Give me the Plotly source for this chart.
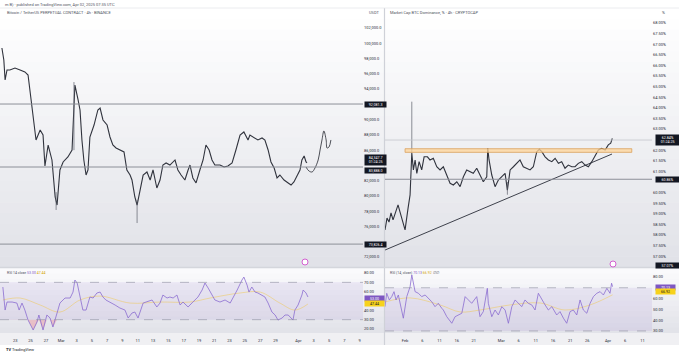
import plotly.graph_objects as go
import numpy as np

W, H = 679, 354

# ---------------- Left: Bitcoin / TetherUS perpetual, 4h ----------------
btc_dates = [
"2025-02-21 06:00","2025-02-21 12:00","2025-02-21 16:00","2025-02-21 22:00","2025-02-22 07:00","2025-02-22 23:00","2025-02-23 15:00","2025-02-24 06:00","2025-02-24 16:00","2025-02-24 22:00",
"2025-02-25 04:00","2025-02-25 11:00","2025-02-25 17:00","2025-02-26 06:00","2025-02-26 15:00","2025-02-26 21:00","2025-02-27 07:00","2025-02-27 19:00","2025-02-28 05:00","2025-02-28 11:00",
"2025-02-28 20:00","2025-03-01 06:00","2025-03-01 21:00","2025-03-02 10:00","2025-03-02 16:00","2025-03-02 19:00","2025-03-03 05:00","2025-03-03 11:00","2025-03-03 17:00","2025-03-03 23:00",
"2025-03-04 06:00","2025-03-04 12:00","2025-03-04 18:00","2025-03-05 07:00","2025-03-05 19:00","2025-03-06 02:00","2025-03-06 11:00","2025-03-07 00:00","2025-03-07 09:00","2025-03-07 18:00",
"2025-03-08 04:00","2025-03-08 16:00","2025-03-09 05:00","2025-03-09 14:00","2025-03-10 00:00","2025-03-10 06:00","2025-03-10 15:00","2025-03-10 22:00","2025-03-11 07:00","2025-03-11 17:00",
"2025-03-12 05:00","2025-03-12 15:00","2025-03-13 00:00","2025-03-13 12:00","2025-03-13 22:00","2025-03-14 07:00","2025-03-14 17:00","2025-03-15 05:00","2025-03-15 21:00","2025-03-16 06:00",
"2025-03-16 16:00","2025-03-17 04:00","2025-03-17 14:00","2025-03-17 20:00","2025-03-18 05:00","2025-03-18 15:00","2025-03-19 03:00","2025-03-19 13:00","2025-03-19 22:00","2025-03-20 08:00",
"2025-03-20 17:00","2025-03-21 02:00","2025-03-21 18:00","2025-03-22 07:00","2025-03-22 19:00","2025-03-23 08:00","2025-03-23 20:00","2025-03-24 09:00","2025-03-24 21:00","2025-03-25 10:00",
"2025-03-25 16:00","2025-03-26 05:00","2025-03-26 17:00","2025-03-27 06:00","2025-03-27 15:00","2025-03-28 01:00","2025-03-28 10:00","2025-03-28 20:00","2025-03-29 05:00","2025-03-29 14:00",
"2025-03-30 03:00","2025-03-30 16:00","2025-03-31 01:00","2025-03-31 10:00","2025-03-31 20:00","2025-04-01 05:00","2025-04-01 11:00","2025-04-01 18:00","2025-04-02 00:00","2025-04-02 03:00"]
btc_close = [99380,97810,95190,96500,96500,96760,96500,96240,95840,93880,
91650,89290,87330,88640,87980,83920,86670,84710,79860,78810,
83400,84450,85100,86020,93220,94530,92570,91260,87330,84710,
82740,83400,87720,89290,91260,91520,89950,89290,87720,86670,
86280,86020,85760,83400,82740,82090,79860,78810,80780,82740,
83140,82090,83400,81040,82090,84050,84320,84050,84710,83400,
82740,82090,83400,84050,82350,81700,83400,84710,86670,86020,
84710,84050,84050,83790,83920,84320,86020,87980,88380,87330,
87980,87590,87330,87590,87330,86020,84450,83660,82350,82740,
82090,81700,81430,81830,82740,83400,84710,85230,84450,84350]
btc_wick_dates = ["2025-02-28 08:00", "2025-03-02 16:00", "2025-03-10 22:00"]
btc_wick_low = [78160, 86000, 76450]
btc_wick_high = [80500, 94920, 79500]
proj_dates = ["2025-04-02 00:00","2025-04-02 09:00","2025-04-02 19:00","2025-04-03 04:00","2025-04-03 14:00","2025-04-03 20:00",
              "2025-04-04 02:00","2025-04-04 08:00","2025-04-04 15:00","2025-04-04 18:00","2025-04-05 00:00","2025-04-05 06:00"]
proj_price = [83790,83270,83140,83660,84710,86020,87330,88510,87330,86280,86410,87330]
btc_levels = [92040, 83790, 73690]
btc_ticks = [72000,76000,78000,80000,82000,86000,88000,90000,94000,96000,98000,100000,102000]
btc_xtick_vals = ["2025-02-23","2025-02-25","2025-02-27","2025-03-01","2025-03-03","2025-03-05","2025-03-07","2025-03-09",
                  "2025-03-11","2025-03-13","2025-03-15","2025-03-17","2025-03-19","2025-03-21","2025-03-23","2025-03-25",
                  "2025-03-27","2025-03-29","2025-04-01","2025-04-03","2025-04-05","2025-04-07","2025-04-09"]
btc_xtick_text = ["23","25","27","Mar","3","5","7","9","11","13","15","17","19","21","23","25","27","29","Apr","3","5","7","9"]

rsiL_dates = ["2025-02-21 09:00","2025-02-21 16:00","2025-02-21 22:00","2025-02-22 14:00","2025-02-23 05:00","2025-02-23 12:00","2025-02-23 21:00","2025-02-24 06:00","2025-02-24 16:00","2025-02-25 08:00",
"2025-02-25 20:00","2025-02-26 02:00","2025-02-26 15:00","2025-02-27 03:00","2025-02-27 13:00","2025-02-27 22:00","2025-02-28 11:00","2025-02-28 20:00","2025-03-01 12:00","2025-03-02 04:00",
"2025-03-02 13:00","2025-03-02 19:00","2025-03-03 02:00","2025-03-03 11:00","2025-03-03 20:00","2025-03-04 06:00","2025-03-04 12:00","2025-03-04 18:00","2025-03-05 04:00","2025-03-05 16:00",
"2025-03-06 02:00","2025-03-06 11:00","2025-03-06 20:00","2025-03-07 09:00","2025-03-08 01:00","2025-03-08 16:00","2025-03-09 08:00","2025-03-09 18:00","2025-03-10 06:00","2025-03-10 15:00",
"2025-03-11 01:00","2025-03-11 17:00","2025-03-12 05:00","2025-03-12 21:00","2025-03-13 12:00","2025-03-13 22:00","2025-03-14 07:00","2025-03-14 20:00","2025-03-15 05:00","2025-03-15 15:00",
"2025-03-16 03:00","2025-03-16 13:00","2025-03-16 22:00","2025-03-17 14:00","2025-03-18 05:00","2025-03-18 21:00","2025-03-19 10:00","2025-03-19 19:00","2025-03-20 05:00","2025-03-20 17:00",
"2025-03-21 02:00","2025-03-21 18:00","2025-03-22 10:00","2025-03-23 02:00","2025-03-23 11:00","2025-03-24 00:00","2025-03-24 15:00","2025-03-24 21:00","2025-03-25 07:00","2025-03-25 13:00",
"2025-03-25 22:00","2025-03-26 08:00","2025-03-26 17:00","2025-03-27 06:00","2025-03-27 15:00","2025-03-28 01:00","2025-03-28 13:00","2025-03-28 23:00","2025-03-29 08:00","2025-03-29 21:00",
"2025-03-30 06:00","2025-03-30 16:00","2025-03-31 07:00","2025-03-31 13:00","2025-03-31 23:00","2025-04-01 11:00","2025-04-01 15:00","2025-04-02 00:00","2025-04-02 06:00"]
rsiL_vals = [65.0,40.3,48.9,48.9,47.8,40.3,47.8,40.3,29.6,18.9,
27.5,35.0,18.9,35.0,31.8,22.1,37.1,47.8,53.2,53.2,
59.6,72.5,69.3,56.4,40.3,40.3,48.9,54.3,53.2,58.6,
59.6,54.3,51.1,48.9,45.7,42.5,40.3,31.8,37.1,38.2,
31.8,47.8,48.9,51.1,43.6,47.8,56.4,53.2,54.3,53.2,
56.4,45.7,48.9,43.6,48.9,54.3,61.8,69.3,63.9,56.4,
51.1,48.9,51.1,47.8,53.2,61.8,72.5,75.7,67.1,59.6,
65.0,59.6,58.6,56.4,54.3,47.8,38.2,35.0,29.6,31.8,
35.0,35.0,29.6,40.3,45.7,56.4,61.8,58.6,54.3]
rsiL_ma_dates = ["2025-02-21 09:00","2025-02-23 15:00","2025-02-26 06:00","2025-02-28 20:00","2025-03-03 11:00","2025-03-06 02:00","2025-03-10 00:00",
                 "2025-03-13 22:00","2025-03-17 20:00","2025-03-20 11:00","2025-03-24 09:00","2025-03-27 00:00","2025-03-29 14:00","2025-03-31 13:00","2025-04-02 06:00"]
rsiL_ma = [51.1,53.2,45.7,38.2,51.1,55.3,47.8,48.9,48.9,53.2,58.6,59.6,47.8,40.3,46.8]

# ---------------- Right: BTC dominance ----------------
dom_dates = ["2025-01-26 04:00","2025-01-26 18:00","2025-01-27 08:00","2025-01-27 22:00","2025-01-28 12:00","2025-01-29 09:00","2025-01-29 23:00","2025-01-30 13:00","2025-01-31 03:00","2025-01-31 17:00",
"2025-02-01 00:00","2025-02-01 21:00","2025-02-02 11:00","2025-02-02 23:00","2025-02-03 10:00","2025-02-03 22:00","2025-02-04 10:00","2025-02-05 02:00","2025-02-05 20:00","2025-02-06 13:00",
"2025-02-07 12:00","2025-02-08 06:00","2025-02-09 05:00","2025-02-10 05:00","2025-02-11 04:00","2025-02-12 03:00","2025-02-13 03:00","2025-02-14 02:00","2025-02-15 01:00","2025-02-16 01:00",
"2025-02-17 00:00","2025-02-17 23:00","2025-02-18 22:00","2025-02-19 21:00","2025-02-20 20:00","2025-02-21 20:00","2025-02-22 19:00","2025-02-23 18:00","2025-02-24 18:00","2025-02-25 01:00",
"2025-02-25 10:00","2025-02-26 05:00","2025-02-27 04:00","2025-02-28 03:00","2025-03-01 03:00","2025-03-02 02:00","2025-03-02 18:00","2025-03-03 13:00","2025-03-04 12:00","2025-03-05 11:00",
"2025-03-06 10:00","2025-03-07 09:00","2025-03-08 09:00","2025-03-09 08:00","2025-03-10 07:00","2025-03-11 07:00","2025-03-12 01:00","2025-03-12 18:00","2025-03-13 17:00","2025-03-14 16:00",
"2025-03-15 16:00","2025-03-16 15:00","2025-03-17 14:00","2025-03-18 13:00","2025-03-19 12:00","2025-03-20 11:00","2025-03-21 11:00","2025-03-22 10:00","2025-03-23 09:00","2025-03-24 09:00",
"2025-03-25 08:00","2025-03-26 07:00","2025-03-27 07:00","2025-03-28 06:00","2025-03-29 05:00","2025-03-30 04:00","2025-03-31 04:00","2025-04-01 02:00","2025-04-01 19:00","2025-04-02 06:00"]
dom_vals = [58.24,58.80,58.61,59.04,58.71,59.08,59.42,59.08,58.71,58.33,
58.24,59.27,59.89,61.87,61.07,61.54,60.91,61.46,61.07,61.69,
61.69,61.54,61.62,61.22,61.07,61.22,60.83,60.44,60.36,60.51,
60.28,60.75,61.07,60.99,60.91,61.15,60.83,60.51,60.75,62.09,
61.54,60.83,60.28,60.59,60.75,60.91,60.12,61.07,61.22,61.38,
61.54,61.22,61.15,61.07,61.22,61.93,62.04,61.93,61.69,61.54,
61.46,61.62,61.38,61.46,61.15,61.30,61.22,61.22,61.38,61.46,
61.30,61.22,61.46,61.77,62.01,62.09,62.01,62.25,62.33,62.56]
dom_wick_dates = ["2025-02-02 23:00", "2025-03-02 18:00"]
dom_wick_low = [61.87, 59.90]
dom_wick_high = [64.29, 60.50]
zone_dates = ["2025-02-01 00:00", "2025-04-07 22:00"]
zone_range = [61.90, 62.07]
trend_dates = ["2025-01-26 04:00", "2025-04-02 04:00"]
trend_vals = [57.29, 61.82]
dom_levels_light = [62.48]
dom_levels_dark = [60.63]
dom_ticks = [57.0,57.5,58.0,58.5,59.0,59.5,60.0,61.0,61.5,62.0,63.0,63.5,64.0,64.5,65.0,65.5,66.0,66.5,67.0,67.5,68.0]
dom_xtick_vals = ["2025-02-01","2025-02-06","2025-02-11","2025-02-16","2025-02-21","2025-03-01","2025-03-06","2025-03-11",
                  "2025-03-16","2025-03-21","2025-03-26","2025-04-01","2025-04-06","2025-04-11"]
dom_xtick_text = ["Feb","6","11","16","21","Mar","6","11","16","21","26","Apr","6","11"]

rsiR_dates = ["2025-01-26 04:00","2025-01-26 16:00","2025-01-27 10:00","2025-01-28 03:00","2025-01-28 19:00","2025-01-29 09:00","2025-01-30 01:00","2025-01-30 18:00","2025-01-31 12:00","2025-02-01 12:00",
"2025-02-02 11:00","2025-02-02 23:00","2025-02-03 22:00","2025-02-04 21:00","2025-02-05 20:00","2025-02-06 20:00","2025-02-07 19:00","2025-02-08 18:00","2025-02-09 17:00","2025-02-10 16:00",
"2025-02-11 16:00","2025-02-12 03:00","2025-02-13 03:00","2025-02-14 14:00","2025-02-15 13:00","2025-02-16 12:00","2025-02-17 12:00","2025-02-18 11:00","2025-02-19 10:00","2025-02-20 09:00",
"2025-02-21 20:00","2025-02-22 19:00","2025-02-23 18:00","2025-02-24 22:00","2025-02-25 05:00","2025-02-26 05:00","2025-02-27 04:00","2025-02-28 03:00","2025-03-01 03:00","2025-03-02 02:00",
"2025-03-03 01:00","2025-03-04 01:00","2025-03-05 00:00","2025-03-05 23:00","2025-03-06 22:00","2025-03-07 21:00","2025-03-08 20:00","2025-03-09 20:00","2025-03-10 19:00","2025-03-11 18:00",
"2025-03-12 18:00","2025-03-13 17:00","2025-03-14 16:00","2025-03-15 16:00","2025-03-17 02:00","2025-03-18 01:00","2025-03-19 01:00","2025-03-20 00:00","2025-03-20 23:00","2025-03-21 22:00",
"2025-03-22 22:00","2025-03-23 21:00","2025-03-24 20:00","2025-03-25 20:00","2025-03-26 19:00","2025-03-27 18:00","2025-03-28 18:00","2025-03-29 17:00","2025-03-30 16:00","2025-03-31 16:00",
"2025-04-01 14:00","2025-04-02 01:00","2025-04-02 08:00"]
rsiR_vals = [52.5,64.9,58.7,61.8,66.4,58.7,63.3,52.5,41.8,61.8,
71.0,81.9,66.4,64.9,61.8,63.3,60.3,57.1,52.5,55.6,
51.0,49.4,43.2,37.1,43.2,44.8,46.4,61.8,58.7,55.6,
61.8,43.2,47.9,69.5,55.6,43.2,49.4,44.8,52.5,49.4,
37.1,52.5,58.7,55.6,52.5,58.7,55.6,54.1,49.4,64.9,
58.7,54.1,49.4,52.5,44.8,47.9,41.8,37.1,47.9,49.4,
44.8,58.7,49.4,46.4,55.6,61.8,64.9,66.4,63.3,69.5,
64.9,74.2,71.0]
rsiR_ma_dates = ["2025-01-26 04:00","2025-02-02 11:00","2025-02-11 04:00","2025-02-17 00:00","2025-02-22 19:00","2025-03-03 13:00",
                 "2025-03-12 06:00","2025-03-19 12:00","2025-03-26 19:00","2025-04-02 08:00"]
rsiR_ma = [56.9,60.6,54.1,47.6,49.4,54.1,55.9,49.4,54.1,63.5]

# ---------------- geometry helpers ----------------
def px(x): return x / W
def py(y): return 1 - y / H

LX = [0, px(363)]
RX = [px(385), px(652)]
MAIN_Y = [py(267), py(8)]
RSI_Y = [py(333), py(268)]

FONT = "Roboto"
TXT = "#2a2e39"
CANDLE = "#30333d"
PURPLE = "#8a6cd0"
YELLOW = "rgba(244,196,48,0.7)"

fig = go.Figure()

# ---- left main traces ----
fig.add_trace(go.Scatter(x=btc_dates, y=btc_close, mode="lines", line=dict(color=CANDLE, width=1.1), xaxis="x", yaxis="y"))
for d, lo, hi in zip(btc_wick_dates, btc_wick_low, btc_wick_high):
    fig.add_trace(go.Scatter(x=[d, d], y=[lo, hi], mode="lines", line=dict(color="#5d606b", width=0.7), xaxis="x", yaxis="y"))
fig.add_trace(go.Scatter(x=proj_dates, y=proj_price, mode="lines", line=dict(color="#23262f", width=0.8, shape="spline"), xaxis="x", yaxis="y"))

# ---- right main traces ----
fig.add_trace(go.Scatter(x=dom_dates, y=dom_vals, mode="lines", line=dict(color=CANDLE, width=1.1), xaxis="x2", yaxis="y2"))
for d, lo, hi in zip(dom_wick_dates, dom_wick_low, dom_wick_high):
    fig.add_trace(go.Scatter(x=[d, d], y=[lo, hi], mode="lines", line=dict(color="#5d606b", width=0.7), xaxis="x2", yaxis="y2"))
fig.add_trace(go.Scatter(x=trend_dates, y=trend_vals, mode="lines", line=dict(color="#2a2e39", width=0.9), xaxis="x2", yaxis="y2"))

# ---- RSI traces ----
rl = np.array(rsiL_vals)
fig.add_trace(go.Scatter(x=rsiL_dates, y=[30]*len(rl), mode="lines", line=dict(width=0, color="rgba(0,0,0,0)"), xaxis="x3", yaxis="y3"))
fig.add_trace(go.Scatter(x=rsiL_dates, y=np.minimum(rl, 30), mode="lines", line=dict(width=0, color="rgba(0,0,0,0)"),
                         fill="tonexty", fillcolor="rgba(242,54,69,0.22)", xaxis="x3", yaxis="y3"))
fig.add_trace(go.Scatter(x=rsiL_ma_dates, y=rsiL_ma, mode="lines", line=dict(color=YELLOW, width=0.6, shape="spline"), xaxis="x3", yaxis="y3"))
fig.add_trace(go.Scatter(x=rsiL_dates, y=rsiL_vals, mode="lines", line=dict(color=PURPLE, width=0.8), xaxis="x3", yaxis="y3"))

fig.add_trace(go.Scatter(x=rsiR_ma_dates, y=rsiR_ma, mode="lines", line=dict(color=YELLOW, width=0.6, shape="spline"), xaxis="x4", yaxis="y4"))
fig.add_trace(go.Scatter(x=rsiR_dates, y=rsiR_vals, mode="lines", line=dict(color=PURPLE, width=0.8), xaxis="x4", yaxis="y4"))

# ---- shapes ----
shapes = []
def grad(y0, y1, c0, c1, n=24):
    for i in range(n):
        a = y0 + (y1 - y0) * i / n
        b = y0 + (y1 - y0) * (i + 1) / n + 0.6
        t = i / (n - 1)
        c = tuple(int(round(c0[k] + (c1[k] - c0[k]) * t)) for k in range(3))
        shapes.append(dict(type="rect", xref="paper", yref="paper", x0=0, x1=1, y0=py(b), y1=py(a),
                           fillcolor="rgb(%d,%d,%d)" % c, line=dict(width=0), layer="below"))
grad(8, 267, (255, 255, 255), (225, 226, 232))
grad(268, 333, (250, 250, 252), (226, 227, 233), n=12)
shapes.append(dict(type="rect", xref="paper", yref="paper", x0=0, x1=1, y0=py(345), y1=py(333),
                   fillcolor="rgb(240,240,243)", line=dict(width=0), layer="below"))
# separators
shapes.append(dict(type="line", xref="paper", yref="paper", x0=px(384.5), x1=px(384.5), y0=py(345), y1=py(8),
                   line=dict(color="#cfd1d8", width=1.2)))
shapes.append(dict(type="line", xref="paper", yref="paper", x0=0, x1=1, y0=py(267.5), y1=py(267.5),
                   line=dict(color="#d4d6dc", width=1.5)))
shapes.append(dict(type="line", xref="paper", yref="paper", x0=0, x1=1, y0=py(8), y1=py(8),
                   line=dict(color="#e6e7eb", width=0.8)))

for lv in btc_levels:
    shapes.append(dict(type="line", xref="x domain", yref="y", x0=0, x1=1, y0=lv, y1=lv,
                       line=dict(color="#8c8f98", width=1)))
for lv in dom_levels_light:
    shapes.append(dict(type="line", xref="x2 domain", yref="y2", x0=0, x1=1, y0=lv, y1=lv,
                       line=dict(color="#c4c6cd", width=0.8)))
for lv in dom_levels_dark:
    shapes.append(dict(type="line", xref="x2 domain", yref="y2", x0=0, x1=1, y0=lv, y1=lv,
                       line=dict(color="#8c8f98", width=1)))
shapes.append(dict(type="rect", xref="x2", yref="y2", x0=zone_dates[0], x1=zone_dates[1], y0=zone_range[0], y1=zone_range[1],
                   fillcolor="rgba(255,214,153,0.75)", line=dict(color="#d9a05b", width=0.8)))
for xa, ya in (("x3", "y3"), ("x4", "y4")):
    shapes.append(dict(type="rect", xref=xa + " domain", yref=ya, x0=0, x1=1, y0=30, y1=70,
                       fillcolor="rgba(126,87,194,0.10)", line=dict(width=0), layer="below"))
    for lv in (30, 70):
        shapes.append(dict(type="line", xref=xa + " domain", yref=ya, x0=0, x1=1, y0=lv, y1=lv,
                           line=dict(color="#8e91a0", width=0.6, dash="dash")))
for cx, cy in ((305, 262), (613, 264)):
    shapes.append(dict(type="circle", xref="paper", yref="paper", x0=px(cx - 3), x1=px(cx + 3), y0=py(cy + 3), y1=py(cy - 3),
                       fillcolor="white", line=dict(color="#d35fd0", width=1)))

# ---- annotations ----
ann = []
def txt(x, y, s, size=4, color=TXT, anchor="left", **kw):
    ann.append(dict(xref="paper", yref="paper", x=px(x), y=py(y), text=s, showarrow=False, xanchor=anchor, yanchor="middle",
                    font=dict(family=FONT, size=size, color=color), **kw))

txt(3, 4, "m B) · published on TradingView.com, Apr 02, 2025 07:35 UTC", size=4, color="#50535e")
txt(5, 12, "Bitcoin / TetherUS PERPETUAL CONTRACT · 4h · BINANCE", size=4, color="#50535e")
txt(388, 12, "Market Cap BTC Dominance, % · 4h · CRYPTOCAP", size=4, color="#50535e")
txt(367, 12, "USDT", size=4, color="#50535e")
txt(660, 12, "%", size=4, color="#50535e")
txt(5, 273, "RSI 14 close <span style='color:#7e57c2'>53.00</span> <span style='color:#d4a200'>47.44</span>", size=3.5, color="#50535e")
txt(388, 273, "RSI (14, close) <span style='color:#7e57c2'>70.13</span> <span style='color:#d4a200'>66.92</span> ∅ ∅", size=3.5, color="#50535e")
txt(4, 349, "<b>TV</b> TradingView", size=4, color="#131722")

def box(x, y, yref, s, bg="#131722", fg="white", w=20):
    ann.append(dict(xref="paper", yref=yref, x=px(x), y=y, text=s, showarrow=False, xanchor="left", yanchor="middle",
                    bgcolor=bg, font=dict(family=FONT, size=3.6, color=fg), width=w, borderpad=0.6, align="center"))

box(364, btc_levels[0], "y", "92,081.3")
box(364, 84700, "y", "84,347.7<br>01:24:25", w=20)
box(364, 83350, "y", "83,888.0")
box(364, btc_levels[2], "y", "73,826.4")
box(655, 62.48, "y2", "62.84%<br>01:24:25", w=22)
box(655, 60.63, "y2", "60.86%", w=22)
box(655, 56.54, "y2", "57.07%", w=22)
box(364, 53.0, "y3", "53.00", bg="#7e57c2", w=18)
box(364, 47.44, "y3", "47.44", bg="#f7d21b", fg="#131722", w=18)
box(655, 70.13, "y4", "70.13", bg="#7e57c2", w=18)
box(655, 66.92, "y4", "66.92", bg="#f7d21b", fg="#131722", w=18)

axis_common = dict(showgrid=False, zeroline=False, showline=False, ticks="")
tickfont = dict(family=FONT, size=4, color=TXT)

fig.update_layout(
    width=W, height=H, margin=dict(l=0, r=0, t=0, b=0), showlegend=False,
    paper_bgcolor="white", plot_bgcolor="rgba(0,0,0,0)",
    shapes=shapes, annotations=ann,
    xaxis=dict(domain=LX, range=["2025-02-21 00:00", "2025-04-09 10:40"], showticklabels=False, **axis_common),
    yaxis=dict(domain=MAIN_Y, range=[70690, 104620], side="right", tickvals=btc_ticks,
               ticktext=["{:,.1f}".format(v) for v in btc_ticks], tickfont=tickfont, anchor="x", **axis_common),
    xaxis2=dict(domain=RX, range=["2025-01-26 04:00", "2025-04-13 19:00"], showticklabels=False, anchor="y2", **axis_common),
    yaxis2=dict(domain=MAIN_Y, range=[56.49, 68.71], side="right", tickvals=dom_ticks,
                ticktext=["{:.2f}%".format(v) for v in dom_ticks], tickfont=tickfont, anchor="x2", **axis_common),
    xaxis3=dict(domain=LX, range=["2025-02-21 00:00", "2025-04-09 10:40"], tickvals=btc_xtick_vals, ticktext=btc_xtick_text,
                tickfont=tickfont, anchor="y3", showgrid=False, zeroline=False, showline=False, ticks="outside", ticklen=3,
                tickcolor="rgba(0,0,0,0)"),
    yaxis3=dict(domain=RSI_Y, range=[15.7, 85.4], side="right", tickvals=[20, 30, 40, 60, 70, 80],
                ticktext=["20.00", "30.00", "40.00", "60.00", "70.00", "80.00"], tickfont=tickfont, anchor="x3", **axis_common),
    xaxis4=dict(domain=RX, range=["2025-01-26 04:00", "2025-04-13 19:00"], tickvals=dom_xtick_vals, ticktext=dom_xtick_text,
                tickfont=tickfont, anchor="y4", showgrid=False, zeroline=False, showline=False, ticks="outside", ticklen=3,
                tickcolor="rgba(0,0,0,0)"),
    yaxis4=dict(domain=RSI_Y, range=[28.1, 88.3], side="right", tickvals=[30, 40, 50, 60, 80],
                ticktext=["30.00", "40.00", "50.00", "60.00", "80.00"], tickfont=tickfont, anchor="x4", **axis_common),
)

fig.write_html("out.html", config={"displayModeBar": False, "staticPlot": True})
